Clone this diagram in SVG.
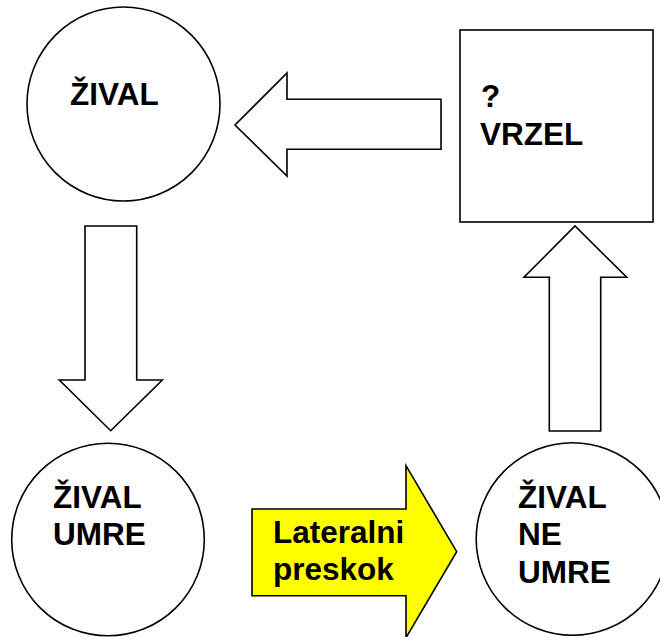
<svg xmlns="http://www.w3.org/2000/svg" width="660" height="637" viewBox="0 0 660 637">
  <style>
    .shape { fill: #ffffff; stroke: #000000; stroke-width: 1.6; }
    .hl { fill: #ffff00; stroke: #000000; stroke-width: 1.6; }
    .lbl { font-family: "Liberation Sans", Arial, sans-serif; font-weight: bold; font-size: 31.5px; fill: #000000; }
  </style>
  <rect width="660" height="637" fill="#ffffff"/>

  <!-- block arrows between the states -->
  <g id="connectors">
    <!-- VRZEL -> ŽIVAL (pointing left) -->
    <polygon class="shape" points="441,99.3 287,99.3 287,73 235,125 287,176 287,149.3 441,149.3"/>
    <!-- ŽIVAL -> ŽIVAL UMRE (pointing down) -->
    <polygon class="shape" points="85,226 136.7,226 136.7,380 162.3,380 110.7,430.7 59.3,380 85,380"/>
    <!-- ŽIVAL NE UMRE -> VRZEL (pointing up) -->
    <polygon class="shape" points="549.3,431 549.3,277.3 524,277.3 575,226 626.7,277.3 600.7,277.3 600.7,431"/>
  </g>

  <g id="zival">
    <ellipse class="shape" cx="123.5" cy="104" rx="96.5" ry="97"/>
    <text class="lbl" x="70" y="105">ŽIVAL</text>
  </g>

  <g id="vrzel">
    <rect class="shape" x="460" y="30" width="193" height="192"/>
    <text class="lbl" x="481" y="107">?</text>
    <text class="lbl" x="480" y="145">VRZEL</text>
  </g>

  <g id="zival-umre">
    <circle class="shape" cx="108" cy="539.5" r="96.3"/>
    <text class="lbl" x="53" y="508">ŽIVAL</text>
    <text class="lbl" x="53" y="545">UMRE</text>
  </g>

  <g id="lateralni-preskok">
    <polygon class="hl" points="252,509 406,509 406,465.7 456.7,551.7 406,637.7 406,595.7 252,595.7"/>
    <text class="lbl" x="273" y="543">Lateralni</text>
    <text class="lbl" x="273" y="580">preskok</text>
  </g>

  <g id="zival-ne-umre">
    <circle class="shape" cx="572.5" cy="539" r="96.3"/>
    <text class="lbl" x="518" y="508">ŽIVAL</text>
    <text class="lbl" x="518" y="545">NE</text>
    <text class="lbl" x="518" y="582.5">UMRE</text>
  </g>
</svg>
